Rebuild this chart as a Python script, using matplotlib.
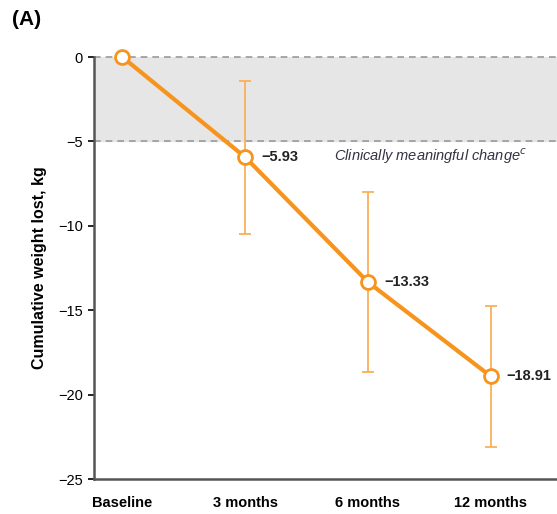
import matplotlib.pyplot as plt

plt.rcParams['font.family'] = ['Liberation Sans', 'DejaVu Sans']

timepoints = ['Baseline', '3 months', '6 months', '12 months']
mean_loss = [0.0, -5.93, -13.33, -18.91]
ci_upper = [None, -1.4, -8.0, -14.75]
ci_lower = [None, -10.5, -18.65, -23.1]
point_labels = ['', '\u22125.93', '\u221213.33', '\u221218.91']

orange = '#F7941D'
light_orange = '#F9B05A'

fig = plt.figure(figsize=(5.57, 5.14), dpi=100)
ax = fig.add_axes([0.169, 0.068, 0.831, 0.821])

x = list(range(len(timepoints)))

# shaded clinically meaningful band
ax.axhspan(-5, 0, color='#E6E6E6', zorder=0)
ax.axhline(0, color='#9A9A9A', ls=(0, (4, 3)), lw=1.2, zorder=1, clip_on=False)
ax.axhline(-5, color='#9A9A9A', ls=(0, (4, 3)), lw=1.2, zorder=1)

# error bars
for i in range(1, len(x)):
    lo, hi = ci_lower[i], ci_upper[i]
    ax.errorbar(x[i], mean_loss[i], yerr=[[mean_loss[i] - lo], [hi - mean_loss[i]]],
                fmt='none', ecolor=light_orange, elinewidth=1.3, capsize=4, capthick=1.3, zorder=2)

ax.plot(x, mean_loss, color=orange, lw=3, marker='o', ms=10, mfc='white',
        mec=orange, mew=2, zorder=3, clip_on=False)

for i in range(1, len(x)):
    ax.text(x[i] + 0.13, mean_loss[i], point_labels[i], fontsize=10.5, fontweight='bold',
            va='center', ha='left', color='#222222')

ax.text(1.72, -5.9, 'Clinically meaningful change$^{c}$', fontsize=10.5, style='italic',
        color='#333344', va='center', ha='left')

ax.set_xlim(-0.23, 3.54)
ax.set_ylim(-25, 0)
ax.set_yticks([0, -5, -10, -15, -20, -25])
ax.set_yticklabels(['0', '\u22125', '\u221210', '\u221215', '\u221220', '\u221225'])
ax.set_xticks(x)
ax.set_xticklabels(timepoints, fontweight='bold', fontsize=10.5)
ax.tick_params(axis='x', length=0, pad=12)
ax.tick_params(axis='y', length=4, width=1.2, labelsize=10.5, pad=4)

for s in ['top', 'right']:
    ax.spines[s].set_visible(False)
for s in ['left', 'bottom']:
    ax.spines[s].set_linewidth(1.8)
    ax.spines[s].set_color('#555555')

ax.set_ylabel('Cumulative weight lost, kg', fontweight='bold', fontsize=11.5, labelpad=8)

fig.text(0.022, 0.962, '(A)', fontsize=15, fontweight='bold', va='center', ha='left')

fig.savefig('out.png', dpi=100)
